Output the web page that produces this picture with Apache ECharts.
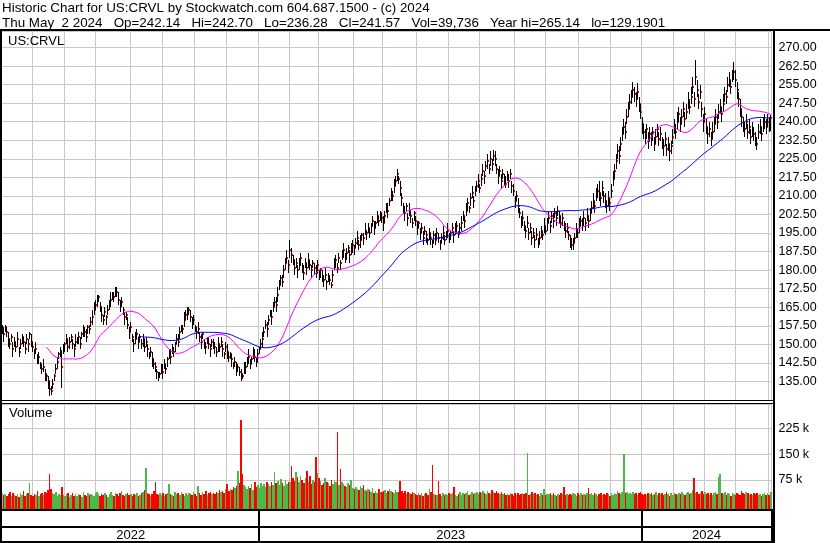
<!DOCTYPE html>
<html><head><meta charset="utf-8">
<script src="https://cdn.jsdelivr.net/npm/echarts@6.0.0/dist/echarts.min.js"></script>
<style>html,body{margin:0;padding:0;background:#fff}#c{width:830px;height:543px}</style>
</head><body><div id="c"></div>
<script>
// ---- data (daily, May 3 2022 .. May 2 2024) ----
const closes = [
156,154,157,155,152,150,153,148,151,149,
152,147,150,153,151,148,152,150,154,151,
149,147,148,144,145,142,140,141,138,137,
135,132,131,134,137,140,143,146,147,141,
148,150,152,149,151,153,150,148,151,152,
153,150,154,156,155,153,157,156,159,161,
164,166,168,169,165,162,160,163,161,164,
166,168,170,169,172,171,168,166,167,164,
161,162,158,155,157,153,150,152,154,151,
153,150,152,149,151,148,146,147,144,142,
141,139,137,138,140,139,142,140,144,146,
145,148,147,150,152,151,155,157,156,160,
162,163,164,161,159,160,157,155,156,153,
151,154,150,149,152,150,148,151,150,149,
147,150,149,151,148,146,149,147,145,146,
144,142,143,140,141,139,138,137,140,141,
143,145,142,144,147,145,143,146,148,150,
152,155,158,156,160,163,161,165,167,166,
170,174,177,175,180,183,185,182,188,186,
184,181,183,180,182,185,181,179,183,181,
184,182,180,183,181,179,182,178,180,177,
176,178,175,177,176,174,178,182,184,181,
185,183,186,188,185,187,189,186,188,190,
189,191,193,190,192,194,193,196,195,197,
195,198,200,197,199,202,200,203,201,199,
202,205,204,208,211,210,214,216,219,217,
213,209,205,203,206,201,204,202,199,203,
200,197,199,195,197,193,196,194,192,195,
193,191,194,192,195,193,191,193,195,192,
194,196,193,195,197,194,196,198,195,197,
199,202,200,204,207,205,209,211,208,212,
214,216,213,217,220,218,222,224,221,225,
223,226,225,221,218,220,216,219,217,215,
218,216,219,214,212,208,210,206,203,200,
201,198,196,199,195,197,193,195,192,194,
191,193,196,194,198,196,199,201,198,202,
200,203,201,204,202,199,201,198,196,197,
194,192,190,191,193,196,195,198,200,199,
201,199,202,200,203,205,208,206,210,212,
211,209,213,210,208,206,209,207,212,217,
220,224,228,226,231,235,238,236,242,245,
248,250,253,251,249,252,247,244,239,236,
234,237,232,235,233,236,231,234,237,233,
235,232,230,233,229,231,228,230,234,238,
236,240,243,239,242,245,241,244,248,246,
250,254,249,258,253,248,252,245,240,243,
238,235,237,233,236,239,242,240,244,246,
243,247,251,250,255,257,254,259,260,257,
253,249,245,242,239,237,240,236,238,234,
237,235,233,231,236,238,235,239,240,238,
240,239,241.57
];
const hiAdd = [
2,3,1,2,3,2,1,3,2,2, 3,2,2,1,2,3,2,2,1,3, 2,1,3,2,2,1,2,3,2,1, 2,3,2,2,1,2,2,1,2,6.7,
2,1,2,3,2,1,2,2,3,1, 2,3,1,2,2,3,1,2,2,3, 3,2,2,1,2,3,2,2,1,2, 2,3,1,2,1,2,3,2,2,1,
2,1,3,2,2,1,2,3,2,2, 1,2,2,3,2,2,1,2,3,2, 2,1,2,1,2,3,2,2,1,2, 3,2,2,1,2,3,2,1,2,3,
2,2,1,3,2,2,1,2,3,2, 3,1,2,2,1,3,2,1,2,2, 2,3,1,2,2,1,2,3,2,1, 2,1,2,3,1,2,2,1,3,2,
2,3,2,1,2,3,2,2,1,2, 3,2,2,3,2,1,3,2,2,3, 3,2,1,3,2,2,3,2,4,3, 2,3,2,2,3,2,2,3,2,2,
3,2,2,1,2,3,2,2,1,3, 2,3,1,2,2,1,2,3,2,2, 2,1,2,3,2,2,1,2,3,2, 1,2,3,2,2,1,2,3,1,2,
2,1,2,3,1,2,2,1,2,3, 2,2,3,1,2,2,3,2,2,1, 3,2,2,3,1,2,3,2,2,1, 2,3,1,2,2,3,2,2,1,2,
2,1,2,3,2,2,1,2,3,2, 2,3,2,1,2,2,3,2,1,2, 3,2,2,3,2,1,2,3,2,2, 2,3,2,2,3,2,2,3,2,3,
2,2.5,3,2,3,2,3,2,2,3, 2,3,2,2,3,2,2,3,2,2, 3,2,2,3,2,2,3,2,2,3, 2,3,2,2,3,2,2,3,2,2,
3,2,3,2,2,3,2,2,3,2, 2,2,3,2,2,3,2,3,2,2, 3,2,3,2,2,3,3,2,3,3, 5,2,3,2,3,2,3,2,3,3,
3,3,3,4,3,3,3,4,3,3, 3,3,3,3,3,3.6,3,3,3,3, 3,2,4,3,3,2,3,3,2,3, 3,2,3,3,2,3,3,2,3,3,
3,4,3,3,3,3,3,3,4,3, 4,4,3,7.14,4,3,3,3,3,3, 3,3,3,3,4,3,3,3,3,3, 3,4,3,3,3,3,3,2,4,4,
3,3,4,3,3,3,3,3,3,3, 3,3,3,3,3,3,3,3,3,3, 3,3,1.13
];
const loSub = [
2,3,2,2,3,2,2,3,2,2, 3,2,2,3,2,2,2,3,2,2, 2,3,2,2,3,2,2,2,3,2, 3,2.81,1.5,2,2,2,3,2,2,8.7,
2,3,2,2,3,2,2,3,2,2, 3,2,2,3,2,2,3,2,2,3, 2,2,3,2,2,3,2,2,3,2, 2,3,2,2,3,2,2,3,2,2,
3,2,2,3,2,2,3,2,2,3, 2,2,3,2,2,3,2,2,3,2, 2,3,2,1.5,2,3,2,2,3,2, 3,2,2,3,2,2,3,2,2,3,
2,3,2,2,3,2,2,3,2,2, 3,2,2,3,2,2,3,2,2,3, 2,3,2,2,3,2,2,3,2,2, 3,2,2,3,2,2,3,1,2,3,
2,3,2,2,3,2,2,3,2,2, 3,2,2,3,2,2,3,2,2,3, 3,2,3,2,3,3,2,3,3,3, 2,3,2,3,2,3,2,3,2,3,
3,2,3,2,3,2,3,2,3,2, 3,2,3,2,2,1.2,3,2,3,2, 2,3,2,3,2,3,2,3,2,3, 3,2,3,2,3,2,3,2,3,2,
2,3,2,3,2,3,2,3,2,3, 3,2,3,2,3,2,3,2,3,2, 3,3,2,3,2,3,2,3,2,3, 2,3,2,3,2,3,2,3,2,3,
3,2,3,2,3,2,3,2,3,2, 2,3,2,3,2,3,2,3,2,3, 3,2,3,2,3,2,3,2,3,2, 2,3,2,3,2,3,2,3,2,3,
3,2,3,2,3,2,3,2,3,2, 2,3,2,3,2,3,2,3,2,3, 3,2,3,2,3,2,3,2,3,2, 2,3,3,2,3,2,3,2,3,3,
3,2,3,2,3,2,3,2,3,2, 2,3,2,3,2,3,2,3,2,3, 3,3,2,3,3,2,3,3,2,3, 3,3,3,3,3,3,3,3,3,3,
3,3,3,3,3,3,3,3,3,3, 3,3,3,3,3,3,3,3,4,3, 3,4,3,3,3,4,3,3,3,3, 3,3,4,3,3,3,4,3,3,3,
3,3,3,3,3,3,3,3,3,3, 3,3,3,3,3,3,3,3,4,3, 3,4,3,3,3,3,3,3,3,3, 3,3,3,3,3,3,3,3,3,3,
4,3,3,4,3,3,3,3,3,3, 3,3,3,2.4,3,3,3,3,3,3, 2,3,5.29
];
const volK = [
38,30,35,28,33,40,27,36,31,29, 34,26,38,30,42,28,33,36,65,31, 27,35,30,44,29,33,38,31,40,36,
45,92,50,38,33,41,29,35,32,55, 30,27,34,38,25,31,36,29,33,28, 35,30,26,39,32,28,37,31,34,30,
29,36,41,33,27,35,30,38,32,26, 34,40,31,28,37,33,29,36,42,30, 27,33,38,30,35,29,34,31,37,28,
32,36,40,45,110,38,33,29,35,42, 69,34,30,38,31,36,29,33,37,63, 35,30,28,39,33,36,31,40,34,29,
37,32,38,35,30,41,33,29,58,36, 31,39,34,42,30,36,40,33,38,35, 41,37,45,39,43,36,48,62,44,50,
47,55,52,58,101,65,250,92,60,55, 48,58,52,62,45,70,55,60,52,66, 58,64,55,70,62,57,68,60,99,65,
72,60,78,66,58,75,62,70,68,116, 80,72,99,85,70,88,75,65,82,101, 70,88,62,76,68,142,95,80,72,60,
65,82,70,66,58,76,64,72,68,215, 60,107,70,62,58,55,66,60,75,52, 48,55,50,45,58,52,60,47,42,50,
45,40,52,38,44,36,48,41,39,43, 46,38,42,50,44,40,36,45,39,41, 72,44,38,42,35,40,37,33,39,36,
34,30,37,32,38,29,33,36,31,50, 40,119,35,32,30,72,34,29,37,31, 35,30,38,33,36,55,32,29,34,40,
31,36,33,38,42,30,35,40,33,37, 39,34,41,36,44,38,35,42,37,33, 45,40,36,43,38,35,41,33,37,30,
35,31,38,33,29,36,32,37,30,34, 38,33,36,154,31,35,40,33,37,30, 34,29,36,32,50,30,35,33,38,31,
36,32,29,35,31,37,33,55,30,34, 31,35,30,38,33,29,36,32,37,30, 34,30,37,52,33,36,31,38,34,29,
33,37,30,35,31,38,33,29,36,32, 38,35,42,37,33,40,152,36,39,34, 37,33,40,35,38,32,36,41,34,30,
35,31,38,33,36,30,34,39,32,36, 33,37,31,35,40,33,29,36,32,38, 34,31,37,33,39,35,30,36,40,34,
38,45,81,36,41,33,37,42,35,39, 33,37,30,36,32,38,41,35,83,92, 36,33,39,31,37,34,29,36,33,30,
38,35,31,44,37,33,40,36,31,35, 30,36,33,38,31,35,29,34,37,32, 36,30,39.736
];
// first trading day index of each month (Jun 2022 .. May 2024)
const monthStarts = [20,41,61,84,105,126,147,168,188,207,230,249,271,292,312,335,355,377,398,418,439,459,479,501];
const yearStarts = [0,168,418];
const yearNames = ['2022','2023','2024'];
const priceTicks = {min:127.5, max:276.67, step:7.5};
const volTicks = {min:0, max:297222, step:75000};
const maPeriods = [30, 90];
const titleLine1 = 'Historic Chart for US:CRVL by Stockwatch.com 604.687.1500 - (c) 2024';
const titleLine2 = 'Thu May  2 2024   Op=242.14   Hi=242.70   Lo=236.28   Cl=241.57   Vol=39,736   Year hi=265.14   lo=129.1901';
const symbolLabel = 'US:CRVL';
const volumeLabel = 'Volume';

// ---- build ----
const N = closes.length;
const idx = closes.map((_, i) => i);
const ohlc = closes.map((c, i) => [i, +(c + hiAdd[i]).toFixed(2), +(c - loSub[i]).toFixed(2), c]);
function sma(arr, n) {
  return arr.map((_, i) => i < n - 1 ? null : arr.slice(i - n + 1, i + 1).reduce((a, b) => a + b, 0) / n);
}
const maFast = sma(closes, maPeriods[0]), maSlow = sma(closes, maPeriods[1]);
const volData = volK.map((v, i) => [i, v * 1000, i === 0 ? 0 : Math.sign(closes[i] - closes[i - 1])]);
const monthSet = new Set(monthStarts);
const yearSet = new Set(yearStarts.slice(1));
const yearLabelMap = {};
yearStarts.forEach((s, k) => { const e = k + 1 < yearStarts.length ? yearStarts[k + 1] : N; yearLabelMap[Math.floor((s + e) / 2)] = yearNames[k]; });

const FONT = '"Liberation Sans", Arial, sans-serif';
const gridL = 1.4, gridW = 770.1;
const GRID = '#c8c8c8';

const chart = echarts.init(document.getElementById('c'), null, {renderer: 'canvas'});
const xAx = (g) => ({
  type: 'category', gridIndex: g, data: idx, boundaryGap: true,
  axisLine: {show: false}, axisTick: {show: false},
  axisLabel: g === 2 ? {
    show: true, inside: true, margin: 6, verticalAlign: 'middle', fontSize: 13, color: '#000', fontFamily: FONT,
    interval: (i) => yearLabelMap[i] !== undefined, formatter: (v) => yearLabelMap[v] || ''
  } : {show: false},
  splitLine: g === 2
    ? {show: true, interval: (i) => yearSet.has(i), lineStyle: {color: '#000', width: 2}}
    : {show: true, interval: (i) => monthSet.has(i), lineStyle: {color: GRID, width: 1}}
});
const lineEl = (x1, y1, x2, y2, w) => ({type: 'line', silent: true, z: 100, shape: {x1, y1, x2, y2}, style: {stroke: '#000', lineWidth: w}});
const textEl = (text, x, y, size) => ({type: 'text', z: 100, x, y, style: {text, fill: '#000', font: size + 'px ' + FONT, verticalAlign: 'middle', align: 'left'}});

chart.setOption({
  animation: false,
  backgroundColor: '#fff',
  textStyle: {fontFamily: FONT},
  grid: [
    {left: gridL, top: 31, width: gridW, height: 369, outerBoundsMode: 'none'},
    {left: gridL, top: 404, width: gridW, height: 101.65, outerBoundsMode: 'none'},
    {left: gridL, top: 509, width: gridW, height: 32, outerBoundsMode: 'none'}
  ],
  xAxis: [xAx(0), xAx(1), xAx(2)],
  yAxis: [
    {type: 'value', gridIndex: 0, position: 'right', min: priceTicks.min, max: priceTicks.max, interval: priceTicks.step,
     axisLine: {show: false}, axisTick: {show: false},
     axisLabel: {formatter: (v) => v.toFixed(2), showMinLabel: false, showMaxLabel: false, margin: 7, color: '#000', fontSize: 12.5, fontFamily: FONT},
     splitLine: {show: true, lineStyle: {color: GRID, width: 1}}},
    {type: 'value', gridIndex: 1, position: 'right', min: volTicks.min, max: volTicks.max, interval: volTicks.step,
     axisLine: {show: false}, axisTick: {show: false},
     axisLabel: {formatter: (v) => (v / 1000) + ' k', showMinLabel: false, showMaxLabel: false, margin: 7, color: '#000', fontSize: 12.5, fontFamily: FONT},
     splitLine: {show: true, showMinLine: false, lineStyle: {color: GRID, width: 1}}},
    {type: 'value', gridIndex: 2, show: false}
  ],
  series: [
    {
      type: 'custom', xAxisIndex: 0, yAxisIndex: 0, data: ohlc, encode: {x: 0, y: [1, 2, 3]}, clip: true,
      renderItem: (params, api) => {
        const i = api.value(0);
        const h = api.coord([i, api.value(1)]);
        const l = api.coord([i, api.value(2)]);
        const c = api.coord([i, api.value(3)]);
        const x = Math.floor(h[0]) + 0.5;
        return {type: 'group', children: [
          {type: 'line', shape: {x1: x, y1: Math.round(h[1]), x2: x, y2: Math.round(l[1])}, style: {stroke: '#000', lineWidth: 1}},
          {type: 'rect', shape: {x: x + 0.5, y: Math.round(c[1]) - 1, width: 1, height: 2}, style: {fill: '#ff0000'}}
        ]};
      }
    },
    {type: 'line', xAxisIndex: 0, yAxisIndex: 0, data: maFast, showSymbol: false, symbol: 'none', connectNulls: false,
     lineStyle: {color: '#ff00ff', width: 1}, z: 5},
    {type: 'line', xAxisIndex: 0, yAxisIndex: 0, data: maSlow, showSymbol: false, symbol: 'none', connectNulls: false,
     lineStyle: {color: '#0000ff', width: 1}, z: 5},
    {
      type: 'custom', xAxisIndex: 1, yAxisIndex: 1, data: volData, encode: {x: 0, y: 1}, clip: false,
      renderItem: (params, api) => {
        const i = api.value(0), v = api.value(1), d = api.value(2);
        const base = api.coord([i, 0]);
        const top = api.coord([i, v]);
        const w = api.size([1, 0])[0];
        const xa = Math.round(base[0] - w / 2), xb = Math.round(base[0] + w / 2);
        const bottom = params.coordSys.y + params.coordSys.height + 3.35;
        const yt = Math.round(top[1]);
        const col = d > 0 ? '#4cb848' : (d < 0 ? '#ff0000' : '#a8a8a8');
        return {type: 'rect', shape: {x: xa, y: yt, width: Math.max(1, xb - xa), height: bottom - yt}, style: {fill: col}};
      }
    }
  ],
  graphic: [
    lineEl(0, 30, 830, 30, 2),
    lineEl(1, 30, 1, 543, 2),
    lineEl(774, 30, 774, 543, 2),
    lineEl(0, 400.5, 774, 400.5, 1),
    lineEl(0, 403.5, 774, 403.5, 1),
    lineEl(0, 510, 774, 510, 2),
    lineEl(0, 527, 774, 527, 2),
    lineEl(0, 542, 774, 542, 2),
    textEl(titleLine1, 2, 8.2, 13.4),
    textEl(titleLine2, 2, 23, 13.4),
    textEl(symbolLabel, 8, 41.5, 13),
    textEl(volumeLabel, 9, 413.5, 13)
  ]
});
</script>
</body></html>
